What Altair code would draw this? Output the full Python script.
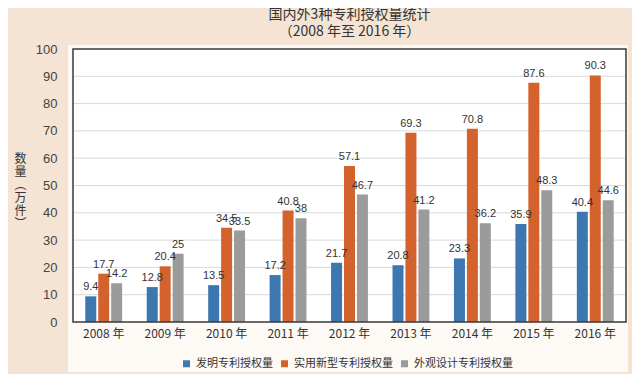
import altair as alt
import pandas as pd

years = ["2008 年", "2009 年", "2010 年", "2011 年", "2012 年", "2013 年", "2014 年", "2015 年", "2016 年"]
series = ["发明专利授权量", "实用新型专利授权量", "外观设计专利授权量"]
invention = [9.4, 12.8, 13.5, 17.2, 21.7, 20.8, 23.3, 35.9, 40.4]
utility = [17.7, 20.4, 34.5, 40.8, 57.1, 69.3, 70.8, 87.6, 90.3]
design = [14.2, 25, 33.5, 38, 46.7, 41.2, 36.2, 48.3, 44.6]
colors = ["#3c77b0", "#d4622c", "#9b9b9b"]
y_ticks = [0, 10, 20, 30, 40, 50, 60, 70, 80, 90, 100]
grid_ticks = [10, 20, 30, 40, 50, 60, 70, 80, 90]

rows = []
for name, vals in zip(series, [invention, utility, design]):
    for y, v in zip(years, vals):
        rows.append({"year": y, "series": name, "value": v, "label": f"{v:g}"})
df = pd.DataFrame(rows)
grid_df = pd.DataFrame({"g": grid_ticks})

W, H = 553, 273

x_scale = alt.Scale(paddingInner=0.4, paddingOuter=0.2)
x_axis = alt.Axis(title=None, labelAngle=0, labelFontSize=12, labelColor="#333",
                  labelFont="Noto Sans CJK SC", ticks=False, domain=False,
                  labelPadding=6, grid=False, zindex=1)
y_scale = alt.Scale(domain=[0, 100], nice=False)
y_axis = alt.Axis(title=["数", "量", "︵", "万", "件", "︶"], titleAngle=0,
                  titleFontSize=12, titleFontWeight="normal", titleColor="#333",
                  titleFont="Noto Sans CJK SC", titleLineHeight=13,
                  titleX=-53, titleY=109, titleAlign="center", titleBaseline="middle",
                  values=y_ticks, labelFontSize=13, labelColor="#444",
                  labelFont="Liberation Sans", labelPadding=16, ticks=False,
                  domain=False, grid=False, zindex=1)
xo_enc = alt.XOffset("series:N", sort=series, scale=alt.Scale(paddingInner=0.15))

panel = alt.Chart(pd.DataFrame({"a": [0]})).mark_rect(color="#fdfaf6").encode(
    x=alt.value(-5), x2=alt.value(555), y=alt.value(-4), y2=alt.value(323))

plotbg = alt.Chart(pd.DataFrame({"a": [0]})).mark_rect(color="#ffffff").encode(
    x=alt.value(0), x2=alt.value(W), y=alt.value(0), y2=alt.value(H))

grid = alt.Chart(grid_df).mark_rule(color="#d9d9d9", strokeWidth=1).encode(
    y=alt.Y("g:Q", scale=y_scale, axis=y_axis))

bars = alt.Chart(df).mark_bar().encode(
    x=alt.X("year:N", sort=years, scale=x_scale, axis=x_axis),
    xOffset=xo_enc,
    y=alt.Y("value:Q", scale=y_scale, axis=y_axis),
    color=alt.Color("series:N", sort=series,
                    scale=alt.Scale(domain=series, range=colors),
                    legend=alt.Legend(title=None, orient="none", direction="horizontal",
                                      legendX=108, legendY=309, symbolType="square",
                                      symbolSize=49, symbolStrokeWidth=0, labelFontSize=11,
                                      labelColor="#333", labelFont="Noto Sans CJK SC",
                                      columnPadding=6, labelOffset=4)),
)

text = alt.Chart(df).mark_text(dy=-9, fontSize=11, color="#333", font="Liberation Sans").encode(
    x=alt.X("year:N", sort=years, scale=x_scale, axis=x_axis),
    xOffset=xo_enc,
    y=alt.Y("value:Q", scale=y_scale, axis=y_axis),
    text="label:N",
)

border = alt.Chart(pd.DataFrame({"a": [0]})).mark_rect(fillOpacity=0, stroke="#3a3a3a", strokeWidth=1.5).encode(
    x=alt.value(0), x2=alt.value(W), y=alt.value(0), y2=alt.value(H))

chart = alt.layer(panel, plotbg, grid, bars, text, border).properties(
    width=W, height=H,
    background="#f5e3d3",
    padding={"left": 65, "top": 41, "right": 6, "bottom": 52},
    autosize=alt.AutoSizeParams(type="none"),
    title=alt.TitleParams(text="国内外3种专利授权量统计",
                          subtitle="（2008 年至 2016 年）",
                          fontSize=14, fontWeight="normal", color="#333",
                          font="Noto Sans CJK SC",
                          subtitleFontSize=14, subtitleColor="#333",
                          subtitleFont="Noto Sans CJK SC", subtitlePadding=3,
                          anchor="middle", frame="group", offset=4),
).configure_view(stroke=None)

chart.save("out.html", embed_options={"renderer": "svg", "actions": False})
